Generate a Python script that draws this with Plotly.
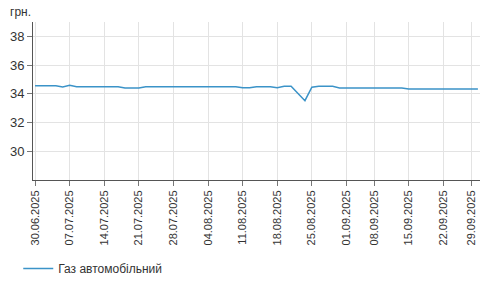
import plotly.graph_objects as go
import pandas as pd

# Trading days (weekdays, with two missing days)
all_days = pd.bdate_range("2025-06-30", "2025-09-30")
missing = {"2025-09-05", "2025-09-26"}
dates = [d.strftime("%d.%m.%Y") for d in all_days if d.strftime("%Y-%m-%d") not in missing]

prices = (
    [34.56] * 4 + [34.48, 34.59] + [34.50] * 7 + [34.41] * 3 + [34.50] * 14
    + [34.42] * 2 + [34.50] * 3 + [34.43] + [34.52] * 2 + [34.05, 33.52, 34.46]
    + [34.52] * 3 + [34.41] * 10 + [34.34] * 11
)

tick_labels = ["30.06.2025", "07.07.2025", "14.07.2025", "21.07.2025", "28.07.2025",
               "04.08.2025", "11.08.2025", "18.08.2025", "25.08.2025", "01.09.2025",
               "08.09.2025", "15.09.2025", "22.09.2025", "29.09.2025"]
y_ticks = [30, 32, 34, 36, 38]
series_name = "Газ автомобільний"
unit_label = "грн."

n = len(dates)
fig = go.Figure()
fig.add_trace(go.Scatter(
    x=dates, y=prices, mode="lines", name=series_name,
    line=dict(color="#3b93c8", width=1.5),
))

font_family = "Liberation Sans, Arial, sans-serif"
fig.update_layout(
    width=490, height=293,
    margin=dict(l=33, r=10, t=22, b=110),
    paper_bgcolor="white", plot_bgcolor="white",
    font=dict(family=font_family, color="#333333", size=12),
    showlegend=True,
    legend=dict(x=-0.033, y=-0.56, xanchor="left", yanchor="middle",
                font=dict(size=12, color="#333333"), itemwidth=30,
                bgcolor="rgba(0,0,0,0)"),
    xaxis=dict(
        type="category", categoryorder="array", categoryarray=dates,
        range=[-0.3, n - 1 + 0.3],
        tickmode="array", tickvals=tick_labels, ticktext=tick_labels,
        tickangle=-90, tickfont=dict(size=11, color="#333333"),
        showgrid=True, gridcolor="#e3e3e3", gridwidth=1,
        showline=True, linecolor="#555555", linewidth=1,
        ticks="outside", ticklen=5, tickcolor="#777777",
        zeroline=False, fixedrange=True,
    ),
    yaxis=dict(
        range=[28, 39], tickmode="array", tickvals=y_ticks,
        tickfont=dict(size=13, color="#333333"),
        showgrid=True, gridcolor="#e3e3e3", gridwidth=1,
        showline=True, linecolor="#555555", linewidth=1,
        ticks="outside", ticklen=5, tickcolor="#777777",
        zeroline=False, fixedrange=True,
    ),
    annotations=[dict(
        text=unit_label, xref="paper", yref="paper",
        x=-25 / 447, y=1 + 10 / 161, xanchor="left", yanchor="middle",
        showarrow=False, font=dict(size=12, color="#333333"),
    )],
)

fig.write_html("out.html")
